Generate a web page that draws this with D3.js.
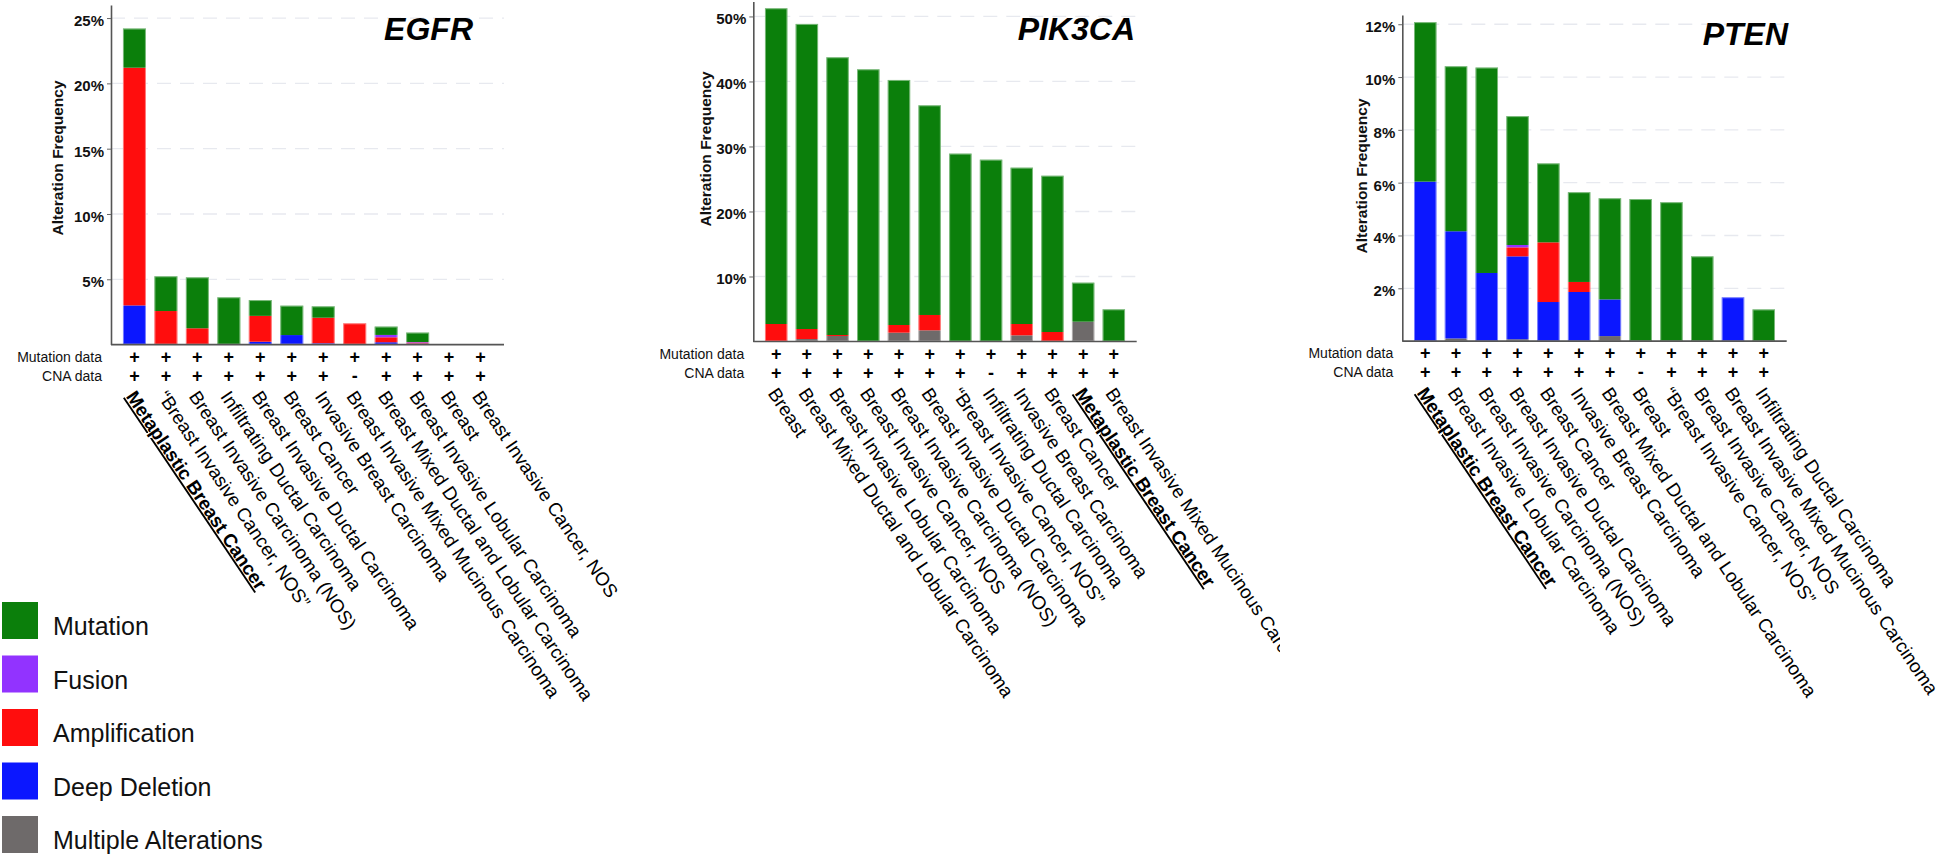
<!DOCTYPE html>
<html>
<head>
<meta charset="utf-8">
<script src="https://cdn.jsdelivr.net/npm/d3@7"></script>
<style>
body { margin: 0; background: #fff; }
text { font-family: "Liberation Sans", Arial, Helvetica, sans-serif; }
</style>
</head>
<body>
<div id="chart"></div>
<script>
// ---- data (alteration frequency, %) ----
var egfrCancers = ["Metaplastic Breast Cancer", "\u201CBreast Invasive Cancer, NOS\u201D", "Breast Invasive Carcinoma (NOS)",
  "Infiltrating Ductal Carcinoma", "Breast Invasive Ductal Carcinoma", "Breast Cancer", "Invasive Breast Carcinoma",
  "Breast Invasive Mixed Mucinous Carcinoma", "Breast Mixed Ductal and Lobular Carcinoma",
  "Breast Invasive Lobular Carcinoma", "Breast", "Breast Invasive Cancer, NOS"];
var egfrMutation      = [3.0, 2.66, 3.9, 3.62, 1.21, 2.25, 0.87, 0, 0.64, 0.72, 0, 0];
var egfrFusion        = [0, 0, 0, 0, 0, 0, 0, 0, 0.18, 0.04, 0, 0];
var egfrAmplification = [18.2, 2.57, 1.25, 0, 1.98, 0, 1.96, 1.63, 0.38, 0.08, 0, 0];
var egfrDeepDeletion  = [3.0, 0, 0, 0, 0.22, 0.73, 0.1, 0, 0.18, 0.08, 0, 0];
var egfrMultiple      = [0, 0, 0, 0, 0, 0, 0, 0, 0, 0, 0, 0];
var egfrMutData = ["+", "+", "+", "+", "+", "+", "+", "+", "+", "+", "+", "+"];
var egfrCnaData = ["+", "+", "+", "+", "+", "+", "+", "-", "+", "+", "+", "+"];
var egfrTicks = [5, 10, 15, 20, 25];

var pik3caCancers = ["Breast", "Breast Mixed Ductal and Lobular Carcinoma", "Breast Invasive Lobular Carcinoma",
  "Breast Invasive Cancer, NOS", "Breast Invasive Carcinoma (NOS)", "Breast Invasive Ductal Carcinoma",
  "\u201CBreast Invasive Cancer, NOS\u201D", "Infiltrating Ductal Carcinoma", "Invasive Breast Carcinoma",
  "Breast Cancer", "Metaplastic Breast Cancer", "Breast Invasive Mixed Mucinous Carcinoma"];
var pik3caMutation      = [48.57, 46.93, 42.72, 41.87, 37.69, 32.25, 28.9, 27.97, 24.05, 24.04, 6.0, 4.95];
var pik3caFusion        = [0, 0, 0, 0, 0, 0, 0, 0, 0, 0, 0, 0];
var pik3caAmplification = [2.69, 1.54, 0.15, 0, 1.18, 2.36, 0, 0, 1.74, 1.46, 0, 0];
var pik3caDeepDeletion  = [0, 0, 0, 0, 0, 0, 0, 0, 0, 0, 0, 0];
var pik3caMultiple      = [0, 0.38, 0.85, 0, 1.36, 1.72, 0, 0, 0.95, 0, 3.05, 0];
var pik3caMutData = ["+", "+", "+", "+", "+", "+", "+", "+", "+", "+", "+", "+"];
var pik3caCnaData = ["+", "+", "+", "+", "+", "+", "+", "-", "+", "+", "+", "+"];
var pik3caTicks = [10, 20, 30, 40, 50];

var ptenCancers = ["Metaplastic Breast Cancer", "Breast Invasive Lobular Carcinoma", "Breast Invasive Carcinoma (NOS)",
  "Breast Invasive Ductal Carcinoma", "Breast Cancer", "Invasive Breast Carcinoma",
  "Breast Mixed Ductal and Lobular Carcinoma", "Breast", "\u201CBreast Invasive Cancer, NOS\u201D",
  "Breast Invasive Cancer, NOS", "Breast Invasive Mixed Mucinous Carcinoma", "Infiltrating Ductal Carcinoma"];
var ptenMutation      = [6.04, 6.25, 7.78, 4.88, 2.99, 3.4, 3.83, 5.38, 5.26, 3.21, 0, 1.2];
var ptenFusion        = [0, 0, 0, 0.09, 0, 0, 0, 0, 0, 0, 0, 0];
var ptenAmplification = [0, 0, 0, 0.34, 2.26, 0.38, 0, 0, 0, 0, 0, 0];
var ptenDeepDeletion  = [6.04, 4.06, 2.58, 3.14, 1.48, 1.86, 1.39, 0, 0, 0, 1.66, 0];
var ptenMultiple      = [0, 0.1, 0, 0.07, 0, 0, 0.19, 0, 0, 0, 0, 0];
var ptenMutData = ["+", "+", "+", "+", "+", "+", "+", "+", "+", "+", "+", "+"];
var ptenCnaData = ["+", "+", "+", "+", "+", "+", "+", "-", "+", "+", "+", "+"];
var ptenTicks = [2, 4, 6, 8, 10, 12];

var legendNames = ["Mutation", "Fusion", "Amplification", "Deep Deletion", "Multiple Alterations"];
var legendColors = ["#0b7f0b", "#9233ff", "#ff0d0d", "#0b17ff", "#6e6a6a"];
var highlighted = "Metaplastic Breast Cancer";

// stacking order, bottom -> top
var stackKeys = ["multiple", "deep", "amp", "fusion", "mutation"];
var keyColor = { mutation: "#0b7f0b", fusion: "#9233ff", amp: "#ff0d0d", deep: "#0b17ff", multiple: "#6e6a6a" };

// ---- layout of the three panels ----
var panels = [
  { gene: "EGFR", cancers: egfrCancers, mutation: egfrMutation, fusion: egfrFusion, amp: egfrAmplification,
    deep: egfrDeepDeletion, multiple: egfrMultiple, mutData: egfrMutData, cnaData: egfrCnaData, ticks: egfrTicks,
    max: 26, left: 111, right: 504, top: 5, base: 344.6, titleX: 473, titleY: 40, labX: 57, labY: 158, clip: null },
  { gene: "PIK3CA", cancers: pik3caCancers, mutation: pik3caMutation, fusion: pik3caFusion, amp: pik3caAmplification,
    deep: pik3caDeepDeletion, multiple: pik3caMultiple, mutData: pik3caMutData, cnaData: pik3caCnaData, ticks: pik3caTicks,
    max: 52.3, left: 753.3, right: 1136.7, top: 1.5, base: 341.5, titleX: 1135, titleY: 40, labX: 705, labY: 149, clip: 1280 },
  { gene: "PTEN", cancers: ptenCancers, mutation: ptenMutation, fusion: ptenFusion, amp: ptenAmplification,
    deep: ptenDeepDeletion, multiple: ptenMultiple, mutData: ptenMutData, cnaData: ptenCnaData, ticks: ptenTicks,
    max: 12.35, left: 1402.3, right: 1786.7, top: 15, base: 341.1, titleX: 1788, titleY: 45, labX: 1361, labY: 176, clip: null }
];

var svg = d3.select("#chart")
  .append("svg")
  .attr("width", 1946)
  .attr("height", 858)
  .style("display", "block");

var defs = svg.append("defs");

panels.forEach(function (p, pi) {
  var g = svg.append("g");

  var x = d3.scaleBand()
    .domain(d3.range(p.cancers.length))
    .range([p.left, p.right])
    .paddingInner(0.27)
    .paddingOuter(0.38);

  var y = d3.scaleLinear()
    .domain([0, p.max])
    .range([p.base, p.top]);

  // dashed grid
  g.selectAll(".grid")
    .data(p.ticks)
    .join("line")
    .attr("x1", p.left)
    .attr("x2", p.right)
    .attr("y1", d => y(d))
    .attr("y2", d => y(d))
    .attr("stroke", "#e7e9ef")
    .attr("stroke-width", 1.3)
    .attr("stroke-dasharray", "14,9");

  // stacked bars
  var rows = p.cancers.map(function (c, i) {
    return { i: i, multiple: p.multiple[i], deep: p.deep[i], amp: p.amp[i], fusion: p.fusion[i], mutation: p.mutation[i] };
  });
  var stacked = d3.stack().keys(stackKeys)(rows);

  g.selectAll(".layer")
    .data(stacked)
    .join("g")
    .attr("fill", d => keyColor[d.key])
    .selectAll("rect")
    .data(d => d.filter(s => s[1] - s[0] > 0))
    .join("rect")
    .attr("x", d => x(d.data.i))
    .attr("width", x.bandwidth())
    .attr("y", d => y(d[1]))
    .attr("height", d => y(d[0]) - y(d[1]));

  // light outline round each bar
  g.selectAll(".outline")
    .data(rows.filter(r => r.multiple + r.deep + r.amp + r.fusion + r.mutation > 0))
    .join("rect")
    .attr("x", d => x(d.i) + 0.5)
    .attr("width", x.bandwidth() - 1)
    .attr("y", d => y(d.multiple + d.deep + d.amp + d.fusion + d.mutation) + 0.5)
    .attr("height", d => p.base - y(d.multiple + d.deep + d.amp + d.fusion + d.mutation) - 1)
    .attr("fill", "none")
    .attr("stroke", "#ffffff")
    .attr("stroke-opacity", 0.45)
    .attr("stroke-width", 1);

  // y axis
  var yAxis = d3.axisLeft(y)
    .tickValues(p.ticks)
    .tickFormat(d => d + "%")
    .tickSize(4)
    .tickSizeOuter(0)
    .tickPadding(3);

  g.append("g")
    .attr("transform", "translate(" + p.left + ",0)")
    .call(yAxis)
    .call(a => a.select(".domain").attr("stroke", "#555").attr("stroke-width", 1.6))
    .call(a => a.selectAll(".tick line").attr("stroke", "#666"))
    .call(a => a.selectAll(".tick text")
      .attr("font-size", 15)
      .attr("font-weight", "bold")
      .attr("font-family", "'Liberation Sans', Arial, sans-serif")
      .attr("fill", "#111")
      .attr("dy", "0.5em"));

  // baseline
  g.append("line")
    .attr("x1", p.left)
    .attr("x2", p.right)
    .attr("y1", p.base)
    .attr("y2", p.base)
    .attr("stroke", "#555")
    .attr("stroke-width", 1.6);

  g.append("text")
    .attr("transform", "translate(" + p.labX + "," + p.labY + ") rotate(-90)")
    .attr("text-anchor", "middle")
    .attr("dominant-baseline", "central")
    .attr("font-size", 15.5)
    .attr("font-weight", "bold")
    .attr("fill", "#111")
    .text("Alteration Frequency");

  g.append("text")
    .attr("x", p.titleX)
    .attr("y", p.titleY)
    .attr("text-anchor", "end")
    .attr("font-size", 32)
    .attr("font-weight", "bold")
    .attr("font-style", "italic")
    .attr("fill", "#000")
    .text(p.gene);

  // Mutation data / CNA data rows
  var rowY = [p.base + 12, p.base + 31];
  var rowLab = ["Mutation data", "CNA data"];
  var rowVals = [p.mutData, p.cnaData];
  rowLab.forEach(function (lab, r) {
    g.append("text")
      .attr("x", p.left - 9)
      .attr("y", rowY[r])
      .attr("text-anchor", "end")
      .attr("dominant-baseline", "central")
      .attr("font-size", 14)
      .attr("fill", "#111")
      .text(lab);

    g.selectAll(".sign" + r)
      .data(rowVals[r])
      .join("text")
      .attr("x", (d, i) => x(i) + x.bandwidth() / 2)
      .attr("y", rowY[r])
      .attr("text-anchor", "middle")
      .attr("dominant-baseline", "central")
      .attr("font-size", 18)
      .attr("font-weight", "bold")
      .attr("fill", "#000")
      .text(d => d);
  });

  // rotated cancer-type labels (the PIK3CA set is cut at the panel edge, as in the source)
  var lg = g.append("g");
  if (p.clip) {
    defs.append("clipPath")
      .attr("id", "clip" + pi)
      .append("rect")
      .attr("x", 0)
      .attr("y", 0)
      .attr("width", p.clip)
      .attr("height", 858);
    lg.attr("clip-path", "url(#clip" + pi + ")");
  }
  lg.selectAll("text")
    .data(p.cancers)
    .join("text")
    .attr("transform", (d, i) => "translate(" + (x(i) + x.bandwidth() / 2 - 9) + "," + (p.base + 52) + ") rotate(56)")
    .attr("font-size", 18.8)
    .attr("font-weight", d => d === highlighted ? "bold" : null)
    .attr("text-decoration", d => d === highlighted ? "underline" : null)
    .attr("fill", "#000")
    .text(d => d);
});

// legend
var legend = svg.append("g");
legend.selectAll("rect")
  .data(legendNames)
  .join("rect")
  .attr("x", 2)
  .attr("y", (d, i) => 602 + i * 53.5)
  .attr("width", 36)
  .attr("height", 37)
  .attr("fill", (d, i) => legendColors[i]);

legend.selectAll("text")
  .data(legendNames)
  .join("text")
  .attr("x", 53)
  .attr("y", (d, i) => 602 + i * 53.5 + 24)
  .attr("dominant-baseline", "central")
  .attr("font-size", 25)
  .attr("fill", "#111")
  .text(d => d);
</script>
</body>
</html>
